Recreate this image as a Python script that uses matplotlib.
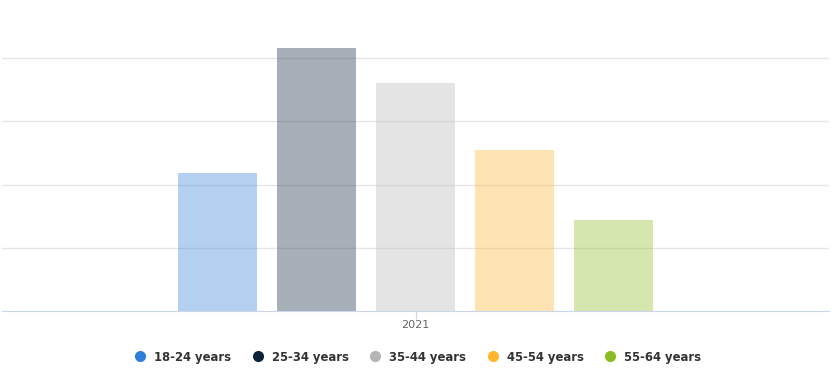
import matplotlib
matplotlib.use("Agg")
import matplotlib.pyplot as plt
from matplotlib.lines import Line2D

categories = ["2021"]
series_names = ["18-24 years", "25-34 years", "35-44 years", "45-54 years", "55-64 years"]
series_values = [21.8, 41.6, 36.0, 25.5, 14.4]
colors = ["#2f7ed8", "#0d233a", "#b5b5b5", "#ffb52e", "#8bbc21"]

fig = plt.figure(figsize=(8.32, 3.88), dpi=100)
ax = fig.add_axes([2 / 832, (388 - 311) / 388, 827 / 832, 311 / 388])

step = 0.12
width = 0.0955
n = len(series_names)
for i, (name, val, col) in enumerate(zip(series_names, series_values, colors)):
    ax.bar(0 + (i - (n - 1) / 2) * step, val, width=width, color=col, alpha=0.36,
           linewidth=0, zorder=3)

ax.set_xlim(-0.5, 0.5)
ax.set_ylim(0, 49.2)
ax.set_yticks([10, 20, 30, 40])
ax.yaxis.grid(True, color="#e6e6e6", linewidth=1, zorder=0)
ax.tick_params(axis="y", left=False, labelleft=False)
ax.set_xticks([0])
ax.set_xticklabels(categories)
ax.tick_params(axis="x", length=6, width=0.8, color="#ccd6eb", labelcolor="#666666",
               labelsize=8, pad=0.5)
for s in ["top", "right", "left"]:
    ax.spines[s].set_visible(False)
ax.spines["bottom"].set_color("#ccd6eb")
ax.spines["bottom"].set_zorder(4)

handles = [Line2D([0], [0], marker="o", linestyle="none", markersize=8,
                  markerfacecolor=c, markeredgewidth=0) for c in colors]
leg = fig.legend(handles, series_names, loc="center", bbox_to_anchor=(417 / 832, 1 - 357 / 388),
                 ncol=5, frameon=False, handletextpad=0.6, columnspacing=1.68,
                 prop={"weight": "bold", "size": 8.4}, handlelength=1.2)
for t in leg.get_texts():
    t.set_color("#333333")

fig.savefig("out.png", dpi=100)
